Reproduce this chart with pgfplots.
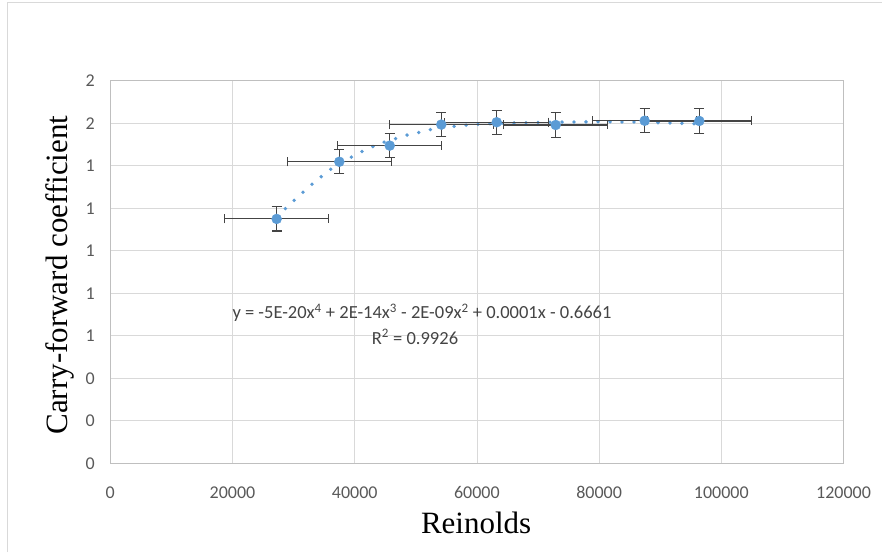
\documentclass[border=0pt]{standalone}
\usepackage{fontspec}
\setmainfont{Carlito}
\newfontfamily\timesfont{Liberation Serif}
\usepackage{pgfplots}
\pgfplotsset{compat=1.18}
\definecolor{ptblue}{RGB}{91,155,213}
\definecolor{gridgray}{RGB}{217,217,217}
\definecolor{axgray}{RGB}{191,191,191}
\definecolor{labgray}{RGB}{89,89,89}
\definecolor{barcol}{RGB}{68,68,68}

\pgfplotstableread{
x      y      xe    ye
27230  1.150  8500  0.057
37480  1.419  8500  0.057
45730  1.495  8500  0.057
54170  1.594  8500  0.057
63240  1.605  8500  0.057
72900  1.592  8500  0.057
87460  1.612  8500  0.057
96400  1.611  8500  0.057
}\measured

\begin{document}
\begin{tikzpicture}
\useasboundingbox (-110.3pt,-88.7pt) rectangle (771.7pt,463.3pt);
% chart area border (top and left visible)
\draw[gridgray, line width=1pt] (-102.3pt,-88.7pt) -- (-102.3pt,460.3pt) -- (771.7pt,460.3pt);
\begin{axis}[
  scale only axis,
  width=733.2pt, height=382.5pt,
  xmin=0, xmax=120000, ymin=0, ymax=1.8,
  scaled x ticks=false,
  xtick={0,20000,40000,60000,80000,100000,120000},
  xticklabels={0,20000,40000,60000,80000,100000,120000},
  ytick={0,0.2,0.4,0.6,0.8,1.0,1.2,1.4,1.6,1.8},
  yticklabels={0,0,0,1,1,1,1,1,2,2},
  major tick length=0pt,
  grid=major,
  grid style={gridgray, line width=0.8pt},
  axis line style={axgray, line width=1pt},
  tick label style={font=\fontsize{18}{21}\selectfont, text=labgray},
  xticklabel style={anchor=center, yshift=-29pt},
  yticklabel style={anchor=center, xshift=-20pt},
  label style={font=\timesfont\fontsize{31}{36}\selectfont, text=black},
  xlabel={Reinolds},
  ylabel={Carry-forward coefficient},
  xlabel style={at={(axis description cs:0.499,-0.156)}, anchor=center},
  ylabel style={at={(axis description cs:-0.0686,0.492)}, anchor=center},
  clip=false,
]
% polynomial trend line
\addplot[ptblue, line width=3.8pt, dash pattern=on 0pt off 12pt, line cap=round, smooth]
  coordinates {(27230,1.16)(28700,1.200)(30200,1.240)(31700,1.280)(33200,1.318)
  (34700,1.353)(36300,1.388)(38000,1.418)(39800,1.446)(41600,1.473)(43500,1.497)
  (45500,1.518)(47200,1.532)(49000,1.548)(50900,1.559)(52800,1.573)(56700,1.587)
  (60000,1.595)(65000,1.601)(70000,1.604)(75000,1.606)(80000,1.607)(85000,1.606)
  (90000,1.603)(96400,1.597)};
% horizontal error bars
\addplot[draw=none, mark=none,
  error bars/.cd, x dir=both, x explicit, error mark=|,
  error bar style={barcol, line width=1.1pt},
  error mark options={draw=barcol, line width=1.1pt, mark size=4.5pt}]
  table[x=x, y=y, x error=xe] {\measured};
% vertical error bars
\addplot[draw=none, mark=none,
  error bars/.cd, y dir=both, y explicit, error mark=|,
  error bar style={barcol, line width=1.1pt},
  error mark options={draw=barcol, line width=1.1pt, mark size=5pt}]
  table[x=x, y=y, y error=ye] {\measured};
% measured points
\addplot[only marks, mark=*, mark size=5pt, mark options={draw=ptblue, fill=ptblue}]
  table[x=x, y=y] {\measured};
\node[font=\fontsize{18.5}{21}\selectfont, text=barcol] at (axis cs:51014,0.707)
  {y = -5E-20x\textsuperscript{4} + 2E-14x\textsuperscript{3} - 2E-09x\textsuperscript{2} + 0.0001x - 0.6661};
\node[font=\fontsize{18.5}{21}\selectfont, text=barcol] at (axis cs:49870,0.595)
  {R\textsuperscript{2} = 0.9926};
\end{axis}
\end{tikzpicture}
\end{document}
